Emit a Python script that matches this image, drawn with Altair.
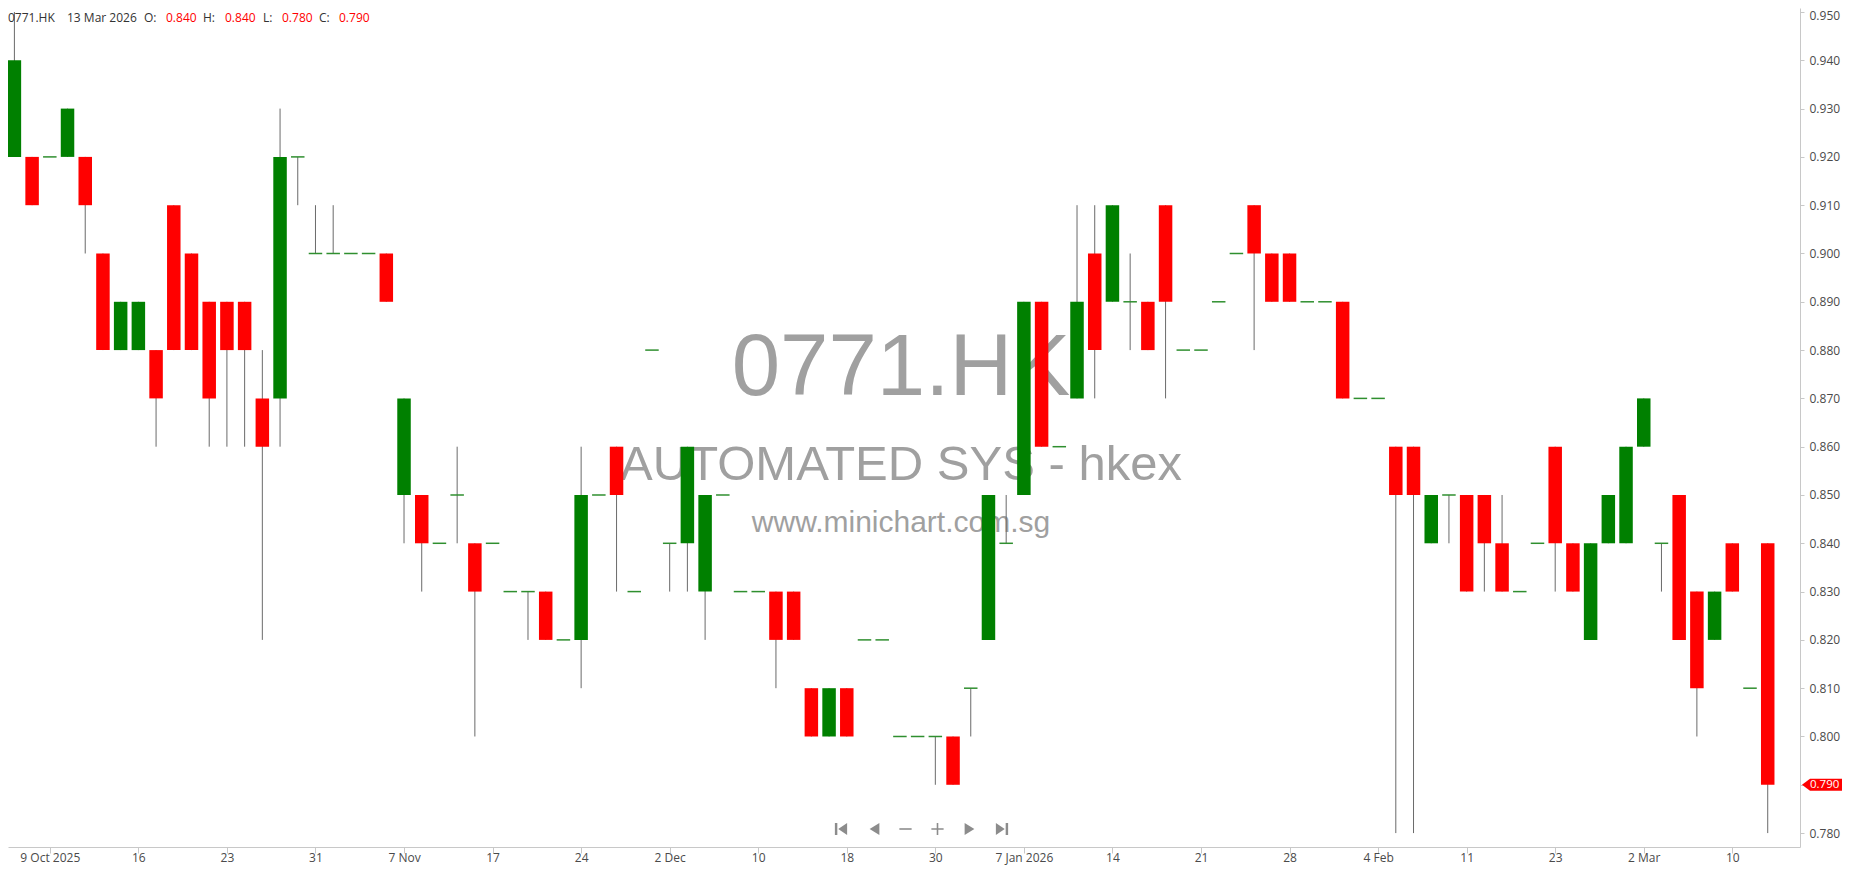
import altair as alt
import pandas as pd

# ---- data ----
opens = [0.92, 0.92, 0.92, 0.92, 0.92, 0.90, 0.88, 0.88, 0.88, 0.91,
         0.90, 0.89, 0.89, 0.89, 0.87, 0.87, 0.92, 0.90, 0.90, 0.90,
         0.90, 0.90, 0.85, 0.85, 0.84, 0.85, 0.84, 0.84, 0.83, 0.83,
         0.83, 0.82, 0.82, 0.85, 0.86, 0.83, 0.88, 0.84, 0.84, 0.83,
         0.85, 0.83, 0.83, 0.83, 0.83, 0.81, 0.80, 0.81, 0.82, 0.82,
         0.80, 0.80, 0.80, 0.80, 0.81, 0.82, 0.84, 0.85, 0.89, 0.86,
         0.87, 0.90, 0.89, 0.89, 0.89, 0.91, 0.88, 0.88, 0.89, 0.90,
         0.91, 0.90, 0.90, 0.89, 0.89, 0.89, 0.87, 0.87, 0.86, 0.86,
         0.84, 0.85, 0.85, 0.85, 0.84, 0.83, 0.84, 0.86, 0.84, 0.82,
         0.84, 0.84, 0.86, 0.84, 0.85, 0.83, 0.82, 0.84, 0.81, 0.84]
highs = [0.95, 0.92, 0.92, 0.93, 0.92, 0.90, 0.89, 0.89, 0.88, 0.91,
         0.90, 0.89, 0.89, 0.89, 0.88, 0.93, 0.92, 0.91, 0.91, 0.90,
         0.90, 0.90, 0.87, 0.85, 0.84, 0.86, 0.84, 0.84, 0.83, 0.83,
         0.83, 0.82, 0.86, 0.85, 0.86, 0.83, 0.88, 0.84, 0.86, 0.85,
         0.85, 0.83, 0.83, 0.83, 0.83, 0.81, 0.81, 0.81, 0.82, 0.82,
         0.80, 0.80, 0.80, 0.80, 0.81, 0.85, 0.85, 0.89, 0.89, 0.86,
         0.91, 0.91, 0.91, 0.90, 0.89, 0.91, 0.88, 0.88, 0.89, 0.90,
         0.91, 0.90, 0.90, 0.89, 0.89, 0.89, 0.87, 0.87, 0.86, 0.86,
         0.85, 0.85, 0.85, 0.85, 0.85, 0.83, 0.84, 0.86, 0.84, 0.84,
         0.85, 0.86, 0.87, 0.84, 0.85, 0.83, 0.83, 0.84, 0.81, 0.84]
lows = [0.92, 0.91, 0.92, 0.92, 0.90, 0.88, 0.88, 0.88, 0.86, 0.88,
        0.88, 0.86, 0.86, 0.86, 0.82, 0.86, 0.91, 0.90, 0.90, 0.90,
        0.90, 0.89, 0.84, 0.83, 0.84, 0.84, 0.80, 0.84, 0.83, 0.82,
        0.82, 0.82, 0.81, 0.85, 0.83, 0.83, 0.88, 0.83, 0.83, 0.82,
        0.85, 0.83, 0.83, 0.81, 0.82, 0.80, 0.80, 0.80, 0.82, 0.82,
        0.80, 0.80, 0.79, 0.79, 0.80, 0.82, 0.84, 0.85, 0.86, 0.86,
        0.87, 0.87, 0.89, 0.88, 0.88, 0.87, 0.88, 0.88, 0.89, 0.90,
        0.88, 0.89, 0.89, 0.89, 0.89, 0.87, 0.87, 0.87, 0.78, 0.78,
        0.84, 0.84, 0.83, 0.83, 0.83, 0.83, 0.84, 0.83, 0.83, 0.82,
        0.84, 0.84, 0.86, 0.83, 0.82, 0.80, 0.82, 0.83, 0.81, 0.78]
closes = [0.94, 0.91, 0.92, 0.93, 0.91, 0.88, 0.89, 0.89, 0.87, 0.88,
          0.88, 0.87, 0.88, 0.88, 0.86, 0.92, 0.92, 0.90, 0.90, 0.90,
          0.90, 0.89, 0.87, 0.84, 0.84, 0.85, 0.83, 0.84, 0.83, 0.83,
          0.82, 0.82, 0.85, 0.85, 0.85, 0.83, 0.88, 0.84, 0.86, 0.85,
          0.85, 0.83, 0.83, 0.82, 0.82, 0.80, 0.81, 0.80, 0.82, 0.82,
          0.80, 0.80, 0.80, 0.79, 0.81, 0.85, 0.84, 0.89, 0.86, 0.86,
          0.89, 0.88, 0.91, 0.89, 0.88, 0.89, 0.88, 0.88, 0.89, 0.90,
          0.90, 0.89, 0.89, 0.89, 0.89, 0.87, 0.87, 0.87, 0.85, 0.85,
          0.85, 0.85, 0.83, 0.84, 0.83, 0.83, 0.84, 0.84, 0.83, 0.84,
          0.85, 0.86, 0.87, 0.84, 0.82, 0.81, 0.83, 0.83, 0.81, 0.79]

tick_idx = [2, 7, 12, 17, 22, 27, 32, 37, 42, 47, 52, 57, 62, 67, 72, 77, 82, 87, 92, 97]
tick_labels = ["9 Oct 2025", "16", "23", "31", "7 Nov", "17", "24", "2 Dec", "10", "18",
               "30", "7 Jan 2026", "14", "21", "28", "4 Feb", "11", "23", "2 Mar", "10"]
y_ticks = [0.78, 0.79, 0.80, 0.81, 0.82, 0.83, 0.84, 0.85, 0.86, 0.87,
           0.88, 0.89, 0.90, 0.91, 0.92, 0.93, 0.94, 0.95]

symbol = "0771.HK"
company = "AUTOMATED SYS - hkex"
site = "www.minichart.com.sg"
last_date = "13 Mar 2026"

# ---- table ----
n = len(opens)
df = pd.DataFrame({"idx": list(range(n)), "open": opens, "high": highs,
                   "low": lows, "close": closes})
df["kind"] = ["up" if c > o else ("down" if c < o else "flat")
              for o, c in zip(df["open"], df["close"])]

W, H = 1792, 839
FONT = "Open Sans"
xs = alt.Scale(domain=[-0.0786, 100.54], nice=False, zero=False)
ys = alt.Scale(domain=[0.77712, 0.950828], nice=False, zero=False)

label_arr = "[" + ",".join("'" + s + "'" for s in tick_labels) + "]"
x_axis = alt.Axis(values=tick_idx, labelExpr=label_arr + "[round((datum.value-2)/5)]",
                  title=None, grid=False, domainColor="#c8c8c8", tickColor="#c8c8c8",
                  tickSize=6, labelFont=FONT, labelFontSize=12, labelColor="#4a4a4a",
                  labelBaseline="alphabetic", labelPadding=8, labelOverlap=False,
                  labelFlush=False)
y_axis = alt.Axis(values=y_ticks, format=".3f", orient="right", title=None, grid=False,
                  domainColor="#c8c8c8", tickColor="#c8c8c8", tickSize=4,
                  labelFont=FONT, labelFontSize=12, labelColor="#4a4a4a",
                  labelPadding=5, labelOverlap=False, labelFlush=False,
                  labelOffset=alt.ExprRef("datum.value >= 0.949 ? 4 : 0"))

X = alt.X("idx:Q", scale=xs, axis=x_axis)
X2 = alt.X2("idx")

base = alt.Chart(df)

# watermark (behind candles)
wm = []
for txt, size, yy in [(symbol, 87, 387), (company, 49, 472), (site, 30, 524)]:
    wm.append(
        alt.Chart(pd.DataFrame({"t": [txt]})).mark_text(
            font="Liberation Sans", fontSize=size, color="#a0a0a0", align="center",
            baseline="alphabetic"
        ).encode(text="t:N", x=alt.value(893), y=alt.value(yy))
    )

wicks = base.mark_rule(color="#6a6a6a", strokeWidth=1).encode(
    x=X, y=alt.Y("low:Q", scale=ys, axis=y_axis), y2="high:Q")

bodies = base.transform_filter("datum.kind != 'flat'").mark_bar(width=13.5).encode(
    x=X, y=alt.Y("open:Q", scale=ys, axis=y_axis), y2="close:Q",
    color=alt.Color("kind:N", scale=alt.Scale(domain=["up", "down"],
                                              range=["#008000", "#ff0000"]), legend=None))

flats = base.transform_filter("datum.kind == 'flat'").mark_rule(
    color="#2f8f2f", strokeWidth=1.5, xOffset=-6.75, x2Offset=6.75).encode(
    x=X, x2=X2, y=alt.Y("close:Q", scale=ys, axis=y_axis))

# header line
last = df.iloc[-1]
parts = [(symbol, "#333333", 0), (last_date, "#333333", 59),
         ("O:", "#333333", 136), (f"{last['open']:.3f}", "#ff0000", 158),
         ("H:", "#333333", 195), (f"{last['high']:.3f}", "#ff0000", 217),
         ("L:", "#333333", 255), (f"{last['low']:.3f}", "#ff0000", 274),
         ("C:", "#333333", 311), (f"{last['close']:.3f}", "#ff0000", 331)]
header = []
for txt, col, xx in parts:
    header.append(
        alt.Chart(pd.DataFrame({"t": [txt]})).mark_text(
            font=FONT, fontSize=12, color=col, align="left", baseline="alphabetic"
        ).encode(text="t:N", x=alt.value(xx), y=alt.value(14))
    )

# navigation icons
icons = [
    ("M -1 -1 L -0.6 -1 L -0.6 1 L -1 1 Z M 1 -1 L 1 1 L -0.45 0 Z", 833),
    ("M 0.8 -1 L 0.8 1 L -0.8 0 Z", 866.5),
    ("M -1 -0.13 L 1 -0.13 L 1 0.13 L -1 0.13 Z", 897.5),
    ("M -1 -0.13 L 1 -0.13 L 1 0.13 L -1 0.13 Z M -0.13 -1 L 0.13 -1 L 0.13 1 L -0.13 1 Z", 929.5),
    ("M -0.8 -1 L -0.8 1 L 0.8 0 Z", 961.5),
    ("M 1 -1 L 0.6 -1 L 0.6 1 L 1 1 Z M -1 -1 L -1 1 L 0.45 0 Z", 994),
]
nav = []
for shp, xx in icons:
    nav.append(
        alt.Chart(pd.DataFrame({"t": [1]})).mark_point(
            shape=shp, filled=True, size=150, color="#8c8c8c", opacity=1, strokeWidth=0
        ).encode(x=alt.value(xx), y=alt.value(821))
    )

# last price tag
last_df = df.tail(1)
tag = alt.Chart(last_df).mark_point(
    shape="M -1 0 L -0.6 -0.3 L 1 -0.3 L 1 0.3 L -0.6 0.3 Z", filled=True,
    size=1600, color="#ff0000", opacity=1, strokeWidth=0
).encode(x=alt.value(1814), y=alt.Y("close:Q", scale=ys, axis=y_axis))
tag_text = alt.Chart(last_df).mark_text(
    font=FONT, fontSize=11.5, color="white", align="left", baseline="middle"
).encode(x=alt.value(1802), y=alt.Y("close:Q", scale=ys, axis=y_axis),
         text=alt.Text("close:Q", format=".3f"))

chart = alt.layer(*wm, wicks, bodies, flats, *nav, *header, tag, tag_text).properties(
    width=W, height=H,
    autosize=alt.AutoSizeParams(type="none"),
    padding={"left": 0, "top": 0, "right": 42, "bottom": 19},
    background="white",
).configure_view(strokeWidth=0)

chart.save("out.html", embed_options={"renderer": "svg", "actions": False})
